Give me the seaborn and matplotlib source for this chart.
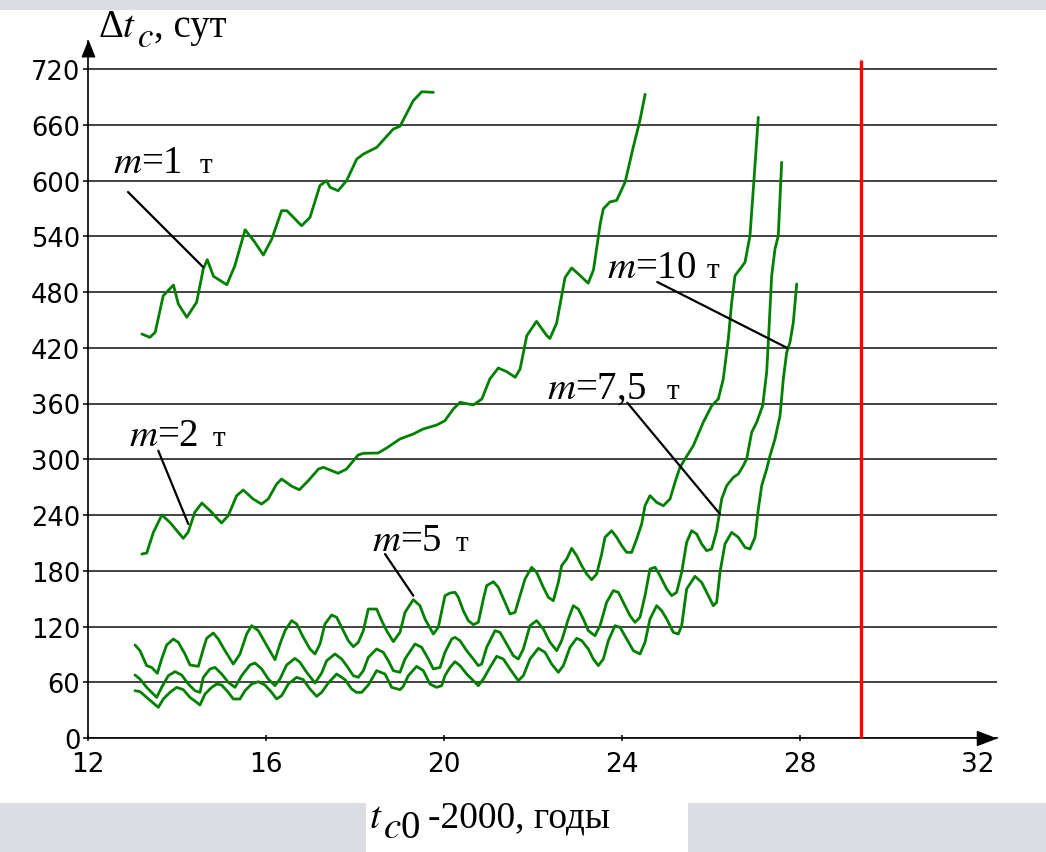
import numpy as np
import pandas as pd
import matplotlib
matplotlib.use("Agg")
import matplotlib.pyplot as plt
import seaborn as sns
from matplotlib.patches import Rectangle

# ---------------- data ----------------
m1_t = [13.21, 13.39, 13.51, 13.69, 13.92, 14.03, 14.22, 14.44, 14.59, 14.68, 14.82, 15.12,
        15.30, 15.53, 15.75, 15.94, 16.13, 16.35, 16.47, 16.80, 16.99, 17.21, 17.36, 17.44,
        17.62, 17.81, 18.04, 18.19, 18.49, 18.86, 19.01, 19.31, 19.50, 19.76]
m1_dt = [434.8, 431.2, 436.6, 476.0, 487.5, 467.1, 452.8, 468.9, 504.7, 514.8, 496.9, 487.8,
         508.3, 547.0, 533.5, 519.8, 537.0, 567.5, 567.5, 551.3, 560.4, 594.4, 599.8, 592.7,
         589.0, 599.8, 623.1, 628.5, 635.7, 655.4, 658.3, 685.9, 695.5, 694.9]

m2_t = [13.21, 13.32, 13.47, 13.66, 13.84, 14.14, 14.25, 14.40, 14.56, 14.78, 15.00, 15.15,
        15.34, 15.49, 15.71, 15.90, 16.05, 16.24, 16.35, 16.58, 16.75, 16.95, 17.18, 17.29,
        17.62, 17.81, 18.07, 18.19, 18.52, 18.71, 19.01, 19.31, 19.53, 19.84, 20.02, 20.21,
        20.36, 20.66, 20.85, 21.03, 21.22, 21.41, 21.60, 21.71, 21.86, 22.08, 22.31, 22.38,
        22.53, 22.72, 22.87, 23.06, 23.24, 23.36, 23.51, 23.58, 23.73, 23.88, 24.07, 24.25,
        24.40, 24.52]
m2_dt = [198.0, 199.1, 221.4, 240.0, 232.1, 214.9, 221.4, 242.9, 252.9, 242.9, 231.4, 239.2,
         260.8, 266.9, 257.2, 251.8, 257.2, 273.4, 278.7, 270.9, 267.2, 276.9, 289.5, 291.3,
         284.9, 289.5, 304.6, 306.4, 306.7, 312.1, 321.8, 327.2, 332.5, 336.9, 341.5, 354.1,
         361.3, 358.4, 364.8, 386.4, 398.2, 394.2, 388.2, 397.1, 433.0, 448.4, 433.0, 430.0,
         446.3, 495.6, 505.9, 497.6, 489.5, 503.9, 553.2, 569.5, 577.0, 578.6, 598.3, 635.3,
         664.0, 692.8]

m5_t = [13.056, 13.168, 13.318, 13.430, 13.558, 13.655, 13.767, 13.917, 14.030, 14.179, 14.292,
        14.479, 14.591, 14.666, 14.816, 14.928, 15.078, 15.265, 15.415, 15.565, 15.677, 15.827,
        15.977, 16.127, 16.202, 16.314, 16.427, 16.576, 16.689, 16.838, 16.988, 17.101, 17.213,
        17.325, 17.475, 17.588, 17.737, 17.850, 17.962, 18.074, 18.187, 18.299, 18.486, 18.599,
        18.711, 18.861, 19.011, 19.123, 19.310, 19.460, 19.573, 19.760, 19.872, 20.022, 20.135,
        20.247, 20.322, 20.434, 20.547, 20.659, 20.771, 20.884, 20.959, 21.109, 21.221, 21.371,
        21.483, 21.596, 21.708, 21.820, 21.970, 22.082, 22.232, 22.345, 22.457, 22.569, 22.644,
        22.757, 22.869, 22.981, 23.094, 23.206, 23.318, 23.431, 23.543, 23.618, 23.768, 23.880,
        23.993, 24.105, 24.217, 24.330, 24.442, 24.517, 24.629, 24.779, 24.929, 25.079, 25.191,
        25.303, 25.416, 25.602, 25.827, 26.016, 26.164, 26.276, 26.389, 26.465, 26.539, 26.652,
        26.764, 26.876, 26.951, 27.063]
m5_dt = [100.1, 94.0, 77.9, 76.0, 69.6, 85.0, 100.1, 106.5, 102.9, 90.4, 78.6,
         77.1, 95.8, 107.3, 113.0, 106.5, 94.0, 79.6, 90.4, 111.9, 120.9, 115.5,
         102.9, 90.4, 84.3, 101.2, 115.5, 126.3, 122.7, 108.3, 95.8, 90.4, 101.2,
         122.7, 132.4, 129.9, 115.5, 104.7, 98.3, 102.9, 115.5, 138.8, 138.8, 126.3,
         115.5, 103.7, 113.7, 135.2, 148.9, 142.4, 128.1, 111.9, 119.1, 153.2, 156.0,
         156.8, 151.4, 137.0, 126.3, 122.0, 124.5, 149.6, 164.0, 168.2, 162.2, 146.0,
         133.5, 135.2, 153.2, 171.1, 183.7, 178.3, 162.2, 151.4, 147.8, 167.5, 185.5,
         192.6, 204.1, 196.2, 185.5, 176.5, 170.4, 176.5, 198.0, 216.0, 223.1, 216.0,
         207.0, 199.8, 199.8, 214.2, 230.3, 250.0, 260.8, 253.6, 250.0, 257.2, 275.2,
         291.3, 300.3, 314.6, 339.8, 357.6, 364.8, 386.4, 429.4, 468.9, 497.5, 504.7,
         512.0, 540.6, 590.8, 668.0]

m75_t = [13.056, 13.168, 13.318, 13.543, 13.655, 13.805, 13.955, 14.104, 14.254, 14.404, 14.516,
         14.591, 14.741, 14.853, 15.003, 15.153, 15.303, 15.453, 15.640, 15.752, 15.902, 16.052,
         16.202, 16.314, 16.464, 16.651, 16.764, 16.913, 17.101, 17.250, 17.363, 17.550, 17.700,
         17.812, 17.962, 18.074, 18.187, 18.299, 18.486, 18.636, 18.749, 18.861, 19.011, 19.123,
         19.348, 19.498, 19.648, 19.760, 19.910, 20.022, 20.172, 20.247, 20.359, 20.509, 20.659,
         20.771, 20.846, 20.959, 21.146, 21.258, 21.408, 21.558, 21.670, 21.783, 21.932, 22.082,
         22.232, 22.382, 22.532, 22.644, 22.794, 22.906, 23.019, 23.131, 23.243, 23.393, 23.506,
         23.655, 23.805, 23.918, 24.067, 24.180, 24.292, 24.404, 24.517, 24.629, 24.742, 24.854,
         25.004, 25.116, 25.228, 25.341, 25.453, 25.566, 25.678, 25.790, 25.903, 26.015, 26.127,
         26.240, 26.352, 26.502, 26.614, 26.726, 26.801, 26.914, 27.026, 27.161, 27.251, 27.311,
         27.363, 27.438, 27.512, 27.588]
m75_dt = [67.8, 63.5, 54.5, 43.7, 54.5, 67.1, 71.4, 67.8, 58.1, 50.9, 49.1,
          65.3, 74.3, 76.0, 68.9, 59.9, 54.5, 67.1, 78.6, 80.7, 74.3, 63.5,
          56.3, 63.5, 78.6, 85.7, 81.4, 70.7, 59.2, 69.9, 83.2, 90.4, 85.0,
          77.9, 67.1, 65.3, 72.5, 86.8, 95.8, 92.2, 83.2, 72.5, 70.7, 85.0,
          101.2, 97.6, 85.0, 74.3, 76.0, 92.2, 106.5, 108.3, 104.8, 94.0, 85.0,
          77.9, 79.6, 97.6, 115.5, 113.7, 101.2, 88.6, 85.0, 95.8, 120.9, 126.3,
          117.3, 103.0, 94.0, 104.8, 128.1, 142.4, 138.8, 128.1, 115.5, 110.1, 120.9,
          146.0, 158.6, 156.8, 142.4, 131.7, 124.5, 129.9, 153.2, 181.9, 183.7, 174.7,
          160.4, 153.2, 156.8, 178.3, 210.6, 223.1, 219.5, 208.8, 201.6, 203.4, 223.1,
          257.2, 271.6, 280.5, 284.1, 293.1, 300.3, 329.0, 339.8, 357.6, 393.6, 447.4,
          497.5, 526.3, 540.6, 619.6]

m10_t = [13.056, 13.168, 13.318, 13.430, 13.580, 13.692, 13.842, 13.992, 14.142, 14.292, 14.442,
         14.516, 14.629, 14.779, 14.891, 15.003, 15.153, 15.265, 15.415, 15.528, 15.677, 15.827,
         15.977, 16.127, 16.239, 16.352, 16.501, 16.689, 16.838, 16.988, 17.138, 17.250, 17.400,
         17.588, 17.775, 17.925, 18.037, 18.149, 18.299, 18.486, 18.674, 18.824, 19.011, 19.086,
         19.198, 19.386, 19.535, 19.685, 19.835, 19.947, 20.022, 20.135, 20.247, 20.359, 20.509,
         20.659, 20.771, 20.884, 21.034, 21.183, 21.333, 21.483, 21.670, 21.783, 21.932, 22.120,
         22.270, 22.419, 22.569, 22.682, 22.831, 22.981, 23.094, 23.243, 23.356, 23.468, 23.581,
         23.693, 23.843, 23.955, 24.105, 24.255, 24.404, 24.517, 24.629, 24.779, 24.891, 25.004,
         25.153, 25.266, 25.341, 25.453, 25.640, 25.790, 25.940, 26.052, 26.127, 26.202, 26.314,
         26.464, 26.614, 26.764, 26.876, 26.989, 27.064, 27.139, 27.251, 27.326, 27.438, 27.551,
         27.625, 27.701, 27.775, 27.850, 27.926]
m10_dt = [50.9, 49.9, 43.7, 39.1, 33.0, 42.0, 49.1, 54.5, 52.0, 43.7, 38.4,
          35.5, 47.3, 54.5, 58.1, 57.0, 49.1, 42.0, 42.0, 50.9, 58.1, 60.6,
          57.0, 49.1, 42.0, 45.6, 58.1, 65.3, 62.8, 52.7, 44.8, 49.1, 59.2,
          68.9, 62.8, 52.7, 49.1, 49.1, 57.0, 72.5, 68.9, 54.5, 52.0, 55.6,
          67.1, 77.1, 72.5, 58.1, 54.5, 56.3, 67.1, 76.0, 82.1, 77.9, 68.9,
          61.7, 56.3, 63.5, 76.0, 87.9, 85.0, 74.3, 61.7, 67.1, 85.0, 96.5,
          92.2, 79.6, 70.7, 77.9, 97.6, 107.3, 104.8, 95.8, 85.0, 77.9, 85.0,
          104.8, 120.9, 119.1, 106.6, 94.0, 90.4, 103.0, 128.1, 142.4, 137.0, 128.1,
          113.7, 111.9, 120.9, 160.4, 174.0, 167.5, 153.2, 142.4, 146.0, 178.3, 208.8,
          221.3, 216.0, 205.2, 203.4, 216.0, 246.5, 271.6, 289.5, 303.8, 321.8, 346.9,
          386.4, 415.1, 425.9, 447.4, 488.6]

series_names = ["m=1", "m=2", "m=5", "m=7.5", "m=10"]
series_t = [m1_t, m2_t, m5_t, m75_t, m10_t]
series_dt = [m1_dt, m2_dt, m5_dt, m75_dt, m10_dt]

limit_year = 29.37      # red vertical line
limit_top = 730

y_ticks = list(range(0, 721, 60))
x_ticks = [12, 16, 20, 24, 28, 32]

label_texts = [r"$m$=1", r"$m$=2", r"$m$=5", r"$m$=10", r"$m$=7,5"]
unit_text = "т"

# ---------------- figure ----------------
sns.set_theme(style="white")
plt.rcParams['font.family'] = ['DejaVu Sans']
plt.rcParams['mathtext.fontset'] = 'stix'

W, H, DPI = 1046, 853, 100
fig = plt.figure(figsize=(W / DPI, H / DPI), dpi=DPI, facecolor='#dcdde3')

# white panels (behind everything)
fig.patches.append(Rectangle((0, (H - 804) / H), 1, (804 - 11) / H, transform=fig.transFigure,
                             facecolor='white', edgecolor='none', zorder=-10))
fig.patches.append(Rectangle((366 / W, 0), (688 - 366) / W, (H - 804) / H + 0.001,
                             transform=fig.transFigure, facecolor='white', edgecolor='none',
                             zorder=-10))

ax_l, ax_r, ax_b, ax_t = 88, 997, 739, 42
ax = fig.add_axes([ax_l / W, (H - ax_b) / H, (ax_r - ax_l) / W, (ax_b - ax_t) / H])
ax.set_facecolor('none')
ax.set_zorder(1)

x_max = 12 + (ax_r - ax_l) / 44.5
ax.set_xlim(12, x_max)
ax.set_ylim(0, (ax_b - ax_t) * 60 / 55.75)

df = pd.concat([pd.DataFrame({'t': t, 'dt': d, 'm': n})
                for n, t, d in zip(series_names, series_t, series_dt)], ignore_index=True)
sns.lineplot(data=df, x='t', y='dt', units='m', estimator=None, sort=False,
             color='#008000', lw=2.0, ax=ax, legend=False, zorder=3)
for ln in ax.get_lines():
    ln.set_solid_joinstyle('round')
    ln.set_solid_capstyle('round')

ax.plot([limit_year, limit_year], [0, limit_top], color='#ff0000', lw=2.4, zorder=4,
        solid_capstyle='butt', clip_on=False)

# axes styling
ax.set_yticks(y_ticks)
ax.set_xticks(x_ticks)
ax.set_yticklabels([str(v) for v in y_ticks])
ax.set_xticklabels([str(v) for v in x_ticks])
ax.yaxis.grid(True, color='#222222', lw=1.2, zorder=1)
ax.xaxis.grid(False)
ax.set_axisbelow(True)
for s in ['top', 'right']:
    ax.spines[s].set_visible(False)
for s in ['left', 'bottom']:
    ax.spines[s].set_color('black')
    ax.spines[s].set_linewidth(1.2)
ax.tick_params(axis='y', direction='out', length=3.5, width=1.1, color='black',
               labelsize=18.5, pad=2, left=True, labelcolor='black')
ax.tick_params(axis='x', direction='inout', length=5, width=1.1, color='black',
               labelsize=19, pad=7, bottom=True, labelcolor='black')
ax.set_xlabel('')
ax.set_ylabel('')

# arrow heads
ax.plot([0], [1], marker=[(0, 0), (-0.4, -1), (0.4, -1), (0, 0)], ms=22, color='black',
        transform=ax.transAxes, clip_on=False, zorder=5)
ax.plot([(995 - ax_l) / (ax_r - ax_l)], [0], marker=[(0, 0), (-1, 0.38), (-1, -0.38), (0, 0)],
        ms=26, color='black', transform=ax.transAxes, clip_on=False, zorder=5)

# annotations
def px2data(px, py):
    return 12 + (px - 88) / 44.5, (739 - py) * 60 / 55.75

label_pos = [(113, 173), (129.3, 445.7), (371.7, 550.7), (606.7, 278.5), (547, 398.7)]
unit_pos = [200, 213, 456, 707, 667]
leader_a = [(128, 193), (158.3, 451.7), (385, 555), (657.3, 283), (627.3, 403.7)]
leader_b = [(203, 268), (188.3, 525), (413.3, 596.7), (787.3, 349), (720, 515.1)]

for txt, (lx, ly), ux, a, b in zip(label_texts, label_pos, unit_pos, leader_a, leader_b):
    x0, y0 = px2data(lx, ly)
    ax.text(x0, y0, txt, fontsize=28, family='Liberation Serif', va='baseline', ha='left',
            color='black', zorder=6)
    ux0, _ = px2data(ux, ly)
    ax.text(ux0, y0, unit_text, fontsize=21, family='Liberation Serif', va='baseline',
            ha='left', color='black', zorder=6)
    (xa, ya), (xb, yb) = px2data(*a), px2data(*b)
    ax.plot([xa, xb], [ya, yb], color='black', lw=1.6, zorder=6)

# axis titles, built from pieces so the subscripts keep a large size
def ftext(px, py, s, size):
    fig.text(px / W, 1 - py / H, s, fontsize=size, family='Liberation Serif',
             va='baseline', ha='left', color='black')

ftext(99, 37, "Δ", 28)
ftext(122, 37, r"$t$", 28)
ftext(137, 47, r"$c$", 25)
ftext(154, 37, ", сут", 28)

ftext(369, 828, r"$t$", 28)
ftext(383, 838, r"$c$0", 28)
ftext(428, 828, "-2000, годы", 27)

fig.savefig('out.png', dpi=DPI, facecolor=fig.get_facecolor())
